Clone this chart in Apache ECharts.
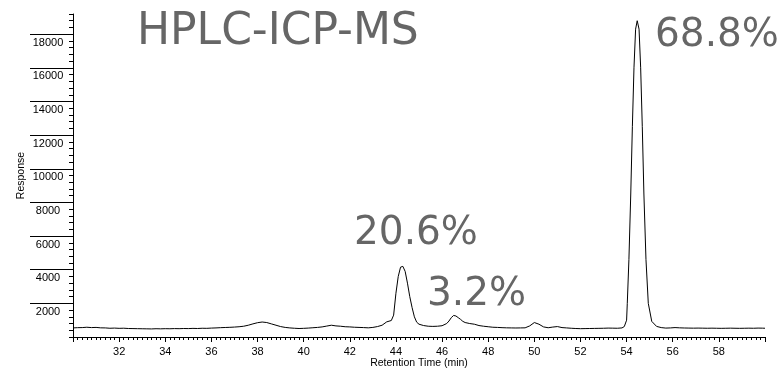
<!DOCTYPE html>
<html>
<head>
<meta charset="utf-8">
<script src="https://cdn.jsdelivr.net/npm/echarts@6/dist/echarts.min.js"></script>
<style>html,body{margin:0;padding:0;background:#fff}#c{width:783px;height:370px}</style>
</head>
<body>
<div id="c"></div>
<script>
const retentionTime = [
30.0,30.2,30.4,30.6,30.8,31.0,31.2,31.4,31.6,31.8,32.0,32.2,32.4,32.6,32.8,33.0,33.2,33.4,33.6,33.8,
34.0,34.2,34.4,34.6,34.8,35.0,35.2,35.4,35.6,35.8,36.0,36.2,36.4,36.6,36.8,37.0,37.2,37.4,37.6,37.8,
38.0,38.2,38.4,38.6,38.8,39.0,39.2,39.4,39.6,39.8,40.0,40.2,40.4,40.6,40.8,41.0,41.2,41.4,41.6,41.8,
42.0,42.2,42.4,42.6,42.8,43.0,43.2,43.4,43.6,43.8,43.9,44.0,44.1,44.2,44.25,44.3,44.4,44.5,44.6,44.7,
44.8,44.9,45.0,45.2,45.4,45.6,45.8,46.0,46.2,46.3,46.4,46.5,46.6,46.7,46.8,46.9,47.0,47.2,47.4,47.6,
47.8,48.0,48.2,48.4,48.6,48.8,49.0,49.2,49.4,49.6,49.8,50.0,50.2,50.4,50.6,50.8,51.0,51.2,51.4,51.6,
51.8,52.0,52.2,52.4,52.6,52.8,53.0,53.2,53.4,53.6,53.8,53.9,54.0,54.03,54.1,54.18,54.25,54.32,54.39,54.46,
54.54,54.61,54.68,54.75,54.84,54.94,55.09,55.3,55.5,55.7,55.9,56.1,56.3,56.5,56.7,56.9,57.1,57.3,57.5,57.7,
57.9,58.1,58.3,58.5,58.7,58.9,59.1,59.3,59.5,59.7,59.9,60.0
];
const response = [
540,555,560,580,560,570,545,540,520,530,515,522,505,500,495,490,485,480,492,485,
495,490,500,495,505,500,512,505,520,515,530,540,555,565,575,590,610,640,700,780,
850,890,860,780,700,620,570,540,520,505,515,530,550,570,600,650,700,660,640,610,
600,580,570,560,545,570,620,700,900,980,1300,2600,3600,4150,4250,4200,3900,3200,2400,1750,
1200,880,760,680,640,630,640,670,800,950,1150,1280,1250,1150,1050,930,860,800,760,680,
640,610,580,570,555,545,540,535,540,545,660,860,760,600,550,590,620,560,540,520,
505,495,500,505,510,515,520,530,525,520,540,620,1000,2000,4600,8500,12500,16000,18300,18800,
18300,16000,12500,8500,4600,2000,930,630,560,530,540,560,545,535,530,525,530,525,520,525,
520,515,520,525,520,515,520,525,520,530,525,520
];
const yTickLabels = [2000,4000,6000,8000,10000,12000,14000,16000,18000];
const titleText = 'HPLC-ICP-MS';
const peakLabels = ['20.6%', '3.2%', '68.8%'];

const chart = echarts.init(document.getElementById('c'));
const axisFont = {fontFamily: 'Liberation Sans, Arial, sans-serif', fontSize: 11, color: '#000'};
chart.setOption({
  animation: false,
  backgroundColor: '#fff',
  grid: {left: 73, right: 18, top: 14, bottom: 33, containLabel: false, outerBoundsMode: 'none'},
  xAxis: {
    type: 'value', min: 30, max: 60, interval: 2,
    name: 'Retention Time (min)', nameLocation: 'middle', nameGap: 21, nameMoveOverlap: false,
    nameTextStyle: {fontFamily: 'Liberation Sans, Arial, sans-serif', fontSize: 10.5, color: '#000'},
    axisLine: {show: true, onZero: false, lineStyle: {color: '#000', width: 1}},
    axisTick: {show: true, inside: false, length: 5, lineStyle: {color: '#000'}},
    minorTick: {show: true, splitNumber: 10, length: 3, lineStyle: {color: '#000'}},
    axisLabel: {showMinLabel: false, showMaxLabel: false, margin: 9, ...axisFont},
    splitLine: {show: false}
  },
  yAxis: [{
    type: 'value', min: 0, max: 19200, interval: 400,
    name: 'Response', nameLocation: 'middle', nameGap: 46, nameMoveOverlap: false,
    nameTextStyle: {fontFamily: 'Liberation Sans, Arial, sans-serif', fontSize: 10.5, color: '#000'},
    axisLine: {show: true, onZero: false, lineStyle: {color: '#000', width: 1}},
    axisTick: {show: true, inside: false, length: 4, lineStyle: {color: '#000'}},
    axisLabel: {customValues: yTickLabels, formatter: v => String(v), align: 'center', verticalAlign: 'top', margin: 25, padding: [3,0,0,0], ...axisFont},
    splitLine: {show: false}
  }, {
    type: 'value', min: 0, max: 19200, interval: 2000, position: 'left',
    axisLine: {show: false},
    axisTick: {show: true, inside: false, length: 43, customValues: yTickLabels, lineStyle: {color: '#000'}},
    axisLabel: {show: false},
    splitLine: {show: false}
  }],
  series: [{
    type: 'line',
    data: retentionTime.map((t, i) => [t, response[i]]),
    showSymbol: false,
    lineStyle: {color: '#000', width: 1},
    itemStyle: {color: '#000'},
    smooth: false
  }],
  graphic: [
    {type: 'text', x: 137, y: 33, style: {text: titleText, font: '44px "DejaVu Sans"', fill: '#666', align: 'left', verticalAlign: 'middle'}},
    {type: 'text', x: 354, y: 234, style: {text: peakLabels[0], font: '39px "DejaVu Sans"', fill: '#666', align: 'left', verticalAlign: 'middle'}},
    {type: 'text', x: 427, y: 295, style: {text: peakLabels[1], font: '39px "DejaVu Sans"', fill: '#666', align: 'left', verticalAlign: 'middle'}},
    {type: 'text', x: 655, y: 36, style: {text: peakLabels[2], font: '39px "DejaVu Sans"', fill: '#666', align: 'left', verticalAlign: 'middle'}}
  ]
});
</script>
</body>
</html>
